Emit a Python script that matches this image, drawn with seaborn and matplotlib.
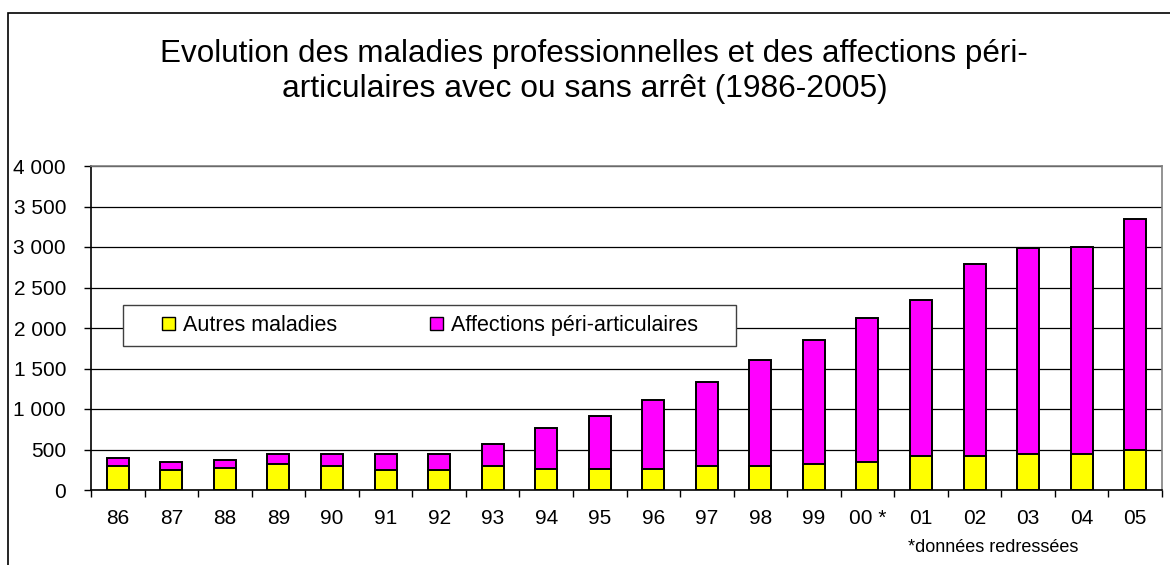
import matplotlib
matplotlib.use("Agg")
import matplotlib.pyplot as plt
import matplotlib.patches as mpatches
import seaborn as sns
import numpy as np
import pandas as pd

# Données
annees = ["86", "87", "88", "89", "90", "91", "92", "93", "94", "95",
          "96", "97", "98", "99", "00 *", "01", "02", "03", "04", "05"]
autres_maladies = [300, 250, 270, 320, 300, 245, 245, 295, 265, 265,
                   265, 295, 295, 320, 340, 420, 420, 445, 445, 495]
affections_peri = [100, 100, 100, 125, 145, 200, 200, 275, 505, 650,
                   845, 1035, 1305, 1530, 1780, 1920, 2370, 2540, 2560, 2855]
y_ticks = [0, 500, 1000, 1500, 2000, 2500, 3000, 3500, 4000]
y_labels = ["0", "500", "1 000", "1 500", "2 000", "2 500", "3 000", "3 500", "4 000"]

titre_1 = "Evolution des maladies professionnelles et des affections péri-"
titre_2 = "articulaires avec ou sans arrêt (1986-2005)"
note = "*données redressées"

df = pd.DataFrame({"annee": annees, "autres": autres_maladies, "peri": affections_peri})
df["total"] = df["autres"] + df["peri"]

sns.set_style("white")
plt.rcParams["font.family"] = ["Liberation Sans", "DejaVu Sans"]
plt.rcParams["text.color"] = "black"

W, H = 1170, 565
fig = plt.figure(figsize=(W / 100, H / 100), dpi=100)
ax = fig.add_axes([91 / W, 1 - 490 / H, (1162 - 91) / W, (490 - 166) / H])

jaune = "#FFFF00"
magenta = "#FF00FF"

# barres empilées : total en magenta puis autres maladies en jaune par-dessus
sns.barplot(data=df, x="annee", y="total", color=magenta, saturation=1,
            width=0.41, edgecolor="black", linewidth=1.4, errorbar=None, ax=ax)
sns.barplot(data=df, x="annee", y="autres", color=jaune, saturation=1,
            width=0.41, edgecolor="black", linewidth=1.4, errorbar=None, ax=ax)

ax.set_xlim(-0.5, len(annees) - 0.5)
ax.set_ylim(0, 4000)
ax.set_xlabel("")
ax.set_ylabel("")

ax.set_yticks(y_ticks)
ax.set_yticklabels(y_labels, fontsize=15)
ax.tick_params(axis="y", direction="out", length=5, width=1, pad=13,
               color="black", labelcolor="black", left=True)

ax.set_xticks(range(len(annees)))
ax.set_xticklabels(annees, fontsize=15)
ax.set_xticks(np.arange(-0.5, len(annees), 1), minor=True)
ax.tick_params(axis="x", which="major", length=0, pad=14, labelcolor="black")
ax.tick_params(axis="x", which="minor", direction="out", length=5, width=1,
               color="black", bottom=True)

ax.yaxis.grid(True, color="black", linewidth=0.9)
ax.set_axisbelow(True)

for s in ["left", "bottom"]:
    ax.spines[s].set_color("black")
    ax.spines[s].set_linewidth(1.2)
for s in ["top", "right"]:
    ax.spines[s].set_color("#808080")
    ax.spines[s].set_linewidth(1.2)

# cadre de la légende
cadre = mpatches.Rectangle((123 / W, 1 - 346 / H), (736 - 123) / W, (346 - 305) / H,
                           transform=fig.transFigure, facecolor="white",
                           edgecolor="#404040", linewidth=1, zorder=4, clip_on=False)
ax.add_patch(cadre)

handles = [mpatches.Patch(facecolor=jaune, edgecolor="black", linewidth=1),
           mpatches.Patch(facecolor=magenta, edgecolor="black", linewidth=1)]
leg = ax.legend(handles, ["Autres maladies", "Affections péri-articulaires"],
                loc="center", bbox_to_anchor=(430 / W, 1 - 325.5 / H),
                bbox_transform=fig.transFigure, ncol=2, frameon=False, fontsize=15.5,
                handlelength=0.6, handleheight=0.6, handletextpad=0.4,
                columnspacing=4.3, labelcolor="black")
leg.set_zorder(5)

fig.text(594 / W, 1 - 62 / H, titre_1, ha="center", va="baseline", fontsize=22.6)
fig.text(585 / W, 1 - 97 / H, titre_2, ha="center", va="baseline", fontsize=22.9)
fig.text(993 / W, 1 - 548 / H, note, ha="center", va="center", fontsize=13)

# bordure extérieure
bord = mpatches.Rectangle((8 / W, -0.1), 1.2, 1.1 - 13 / H, transform=fig.transFigure,
                          facecolor="none", edgecolor="black", linewidth=1.2, clip_on=False)
fig.patches.append(bord)

fig.savefig("out.png", dpi=100)
